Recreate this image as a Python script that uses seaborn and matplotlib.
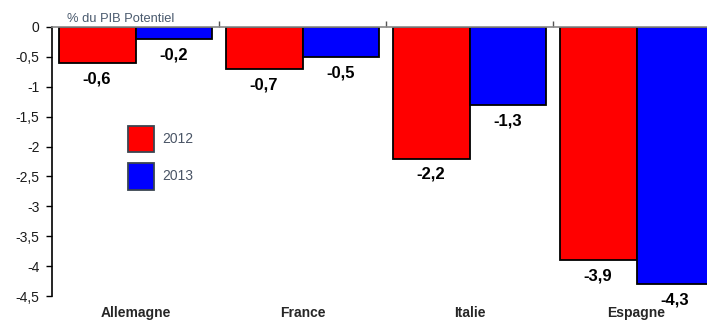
import matplotlib
matplotlib.use("Agg")
import matplotlib.pyplot as plt
import seaborn as sns
import pandas as pd
from matplotlib.patches import Patch

countries = ["Allemagne", "France", "Italie", "Espagne"]
years = ["2012", "2013"]
vals_2012 = [-0.6, -0.7, -2.2, -3.9]
vals_2013 = [-0.2, -0.5, -1.3, -4.3]
y_ticks = [0, -0.5, -1, -1.5, -2, -2.5, -3, -3.5, -4, -4.5]
colors = {"2012": "#ff0000", "2013": "#0000ff"}

df = pd.DataFrame({
    "pays": countries * 2,
    "annee": ["2012"] * 4 + ["2013"] * 4,
    "solde": vals_2012 + vals_2013,
})

sns.set_style("white")
plt.rcParams["font.family"] = ["Liberation Sans", "DejaVu Sans"]

fig = plt.figure(figsize=(7.07, 3.21), dpi=100)
ax = fig.add_axes([52 / 707, 1 - 296 / 321, 668 / 707, 269 / 321])

sns.barplot(data=df, x="pays", y="solde", hue="annee", order=countries,
            hue_order=years, palette=colors, width=0.92, edgecolor="black",
            linewidth=1.3, saturation=1, ax=ax, legend=False)

ax.set_xlim(-0.5, 3.5)
ax.set_ylim(-4.5, 0)
ax.set_yticks(y_ticks)
ax.set_yticklabels([("%g" % v).replace(".", ",") for v in y_ticks],
                   fontsize=10, color="#1a1a1a")
ax.set_xlabel("")
ax.set_ylabel("")
ax.set_xticks(range(len(countries)))
ax.set_xticklabels(countries, fontsize=10, fontweight="bold")
ax.tick_params(axis="x", length=0, pad=7)
ax.tick_params(axis="y", direction="out", length=4, width=1, color="black",
               left=True, pad=5)

for side in ["bottom", "right"]:
    ax.spines[side].set_visible(False)
ax.spines["left"].set_color("black")
ax.spines["left"].set_linewidth(1.2)
ax.spines["top"].set_color("#888888")
ax.spines["top"].set_linewidth(1.2)

top = ax.secondary_xaxis("top")
top.set_xticks([0.5, 1.5, 2.5])
top.set_xticklabels([])
top.tick_params(direction="out", length=4, width=1, color="#555555")
top.spines["top"].set_visible(False)

for cont in ax.containers:
    for bar in cont:
        val = bar.get_height()
        x = bar.get_x() + bar.get_width() / 2
        ax.annotate(("%.1f" % val).replace(".", ","), (x, val),
                    xytext=(0, -6), textcoords="offset points",
                    ha="center", va="top", fontsize=12, fontweight="bold",
                    color="black", annotation_clip=False)

fig.text(67 / 707, 1 - 19 / 321, "% du PIB Potentiel", fontsize=9.3,
         color="#4a5a6e", va="center", ha="left")

handles = [Patch(facecolor=colors[y], edgecolor="#3a4550", linewidth=1.3,
                 label=y) for y in years]
leg = fig.legend(handles=handles, loc="upper left",
                 bbox_to_anchor=(115 / 707, 1 - 113 / 321), frameon=False,
                 handlelength=1.94, handleheight=2.61, labelspacing=0.73,
                 handletextpad=0.58, fontsize=10, labelcolor="#4a5566")

fig.savefig("out.png", dpi=100)
